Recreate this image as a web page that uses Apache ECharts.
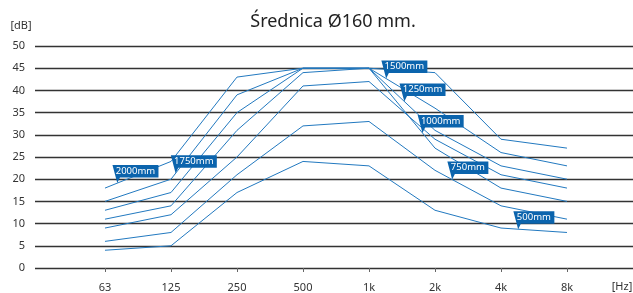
<!DOCTYPE html>
<html>
<head>
<meta charset="utf-8">
<script src="https://cdn.jsdelivr.net/npm/echarts@6/dist/echarts.min.js"></script>
<style>html,body{margin:0;padding:0;background:#fff}#c{width:633px;height:293px}</style>
</head>
<body>
<div id="c"></div>
<script>
// Frequency categories (octave bands)
const freqLabels = ['63', '125', '250', '500', '1k', '2k', '4k', '8k'];
// Attenuation curves [dB] per octave band
const lineA = [18, 24, 43, 45, 45, 44, 29, 27];
const lineB = [15, 20, 39, 45, 45, 36, 26, 23];
const lineC = [13, 17, 35, 45, 45, 31, 23, 20];
const lineD = [11, 14, 31, 44, 45, 27, 18, 15];
const lineE = [9, 12, 25, 41, 42, 29, 21, 18];
const lineF = [6, 8, 21, 32, 33, 22, 14, 11];
const lineG = [4, 5, 17, 24, 23, 13, 9, 8];
// Y tick values
const yTicks = [0, 5, 10, 15, 20, 25, 30, 35, 40, 45, 50];
// Callout labels: text, which line, position along the band axis
const calloutTexts = ['2000mm', '1750mm', '1500mm', '1250mm', '1000mm', '750mm', '500mm'];
const calloutLine = [0, 1, 1, 2, 3, 5, 6];
const calloutAt = [0.186, 1.07, 4.26, 4.535, 4.81, 5.26, 6.26];

const lines = [lineA, lineB, lineC, lineD, lineE, lineF, lineG];
const LINE_COLOR = '#2279c0';
const BOX_COLOR = '#0b64ad';
const FONT = '"Noto Sans", "Open Sans", sans-serif';

function interp(arr, t) {
  const i = Math.min(Math.floor(t), arr.length - 2);
  const f = t - i;
  return arr[i] + (arr[i + 1] - arr[i]) * f;
}

const series = lines.map((arr, k) => ({
  type: 'line',
  name: 'L' + k,
  data: arr.map((v, i) => [i, v]),
  symbol: 'none',
  lineStyle: { color: LINE_COLOR, width: 1 },
  z: 2
}));

const calloutData = calloutTexts.map((txt, k) => {
  const w = txt.length >= 6 ? 46 : 41;
  return {
    value: [calloutAt[k], interp(lines[calloutLine[k]], calloutAt[k])],
    name: txt,
    symbol: 'path://M0,0L' + w + ',0L' + w + ',12.5L7.5,12.5L4.8,18Z',
    symbolSize: [w, 18],
    symbolOffset: [w / 2 - 4.8, -9]
  };
});

series.push({
  type: 'scatter',
  data: calloutData,
  z: 10,
  itemStyle: { color: BOX_COLOR, opacity: 1 },
  label: {
    show: true,
    position: 'inside',
    offset: [0, -2.8],
    formatter: p => p.name,
    color: '#fff',
    fontSize: 9.5,
    fontFamily: FONT
  },
  emphasis: { disabled: true },
  silent: true
});

const chart = echarts.init(document.getElementById('c'), null, { renderer: 'canvas' });
chart.setOption({
  animation: false,
  backgroundColor: '#fff',
  grid: { left: 35, right: 0, top: 46, bottom: 25 },
  xAxis: {
    type: 'value',
    min: -1.0606,
    max: 8,
    splitLine: { show: false },
    axisLine: { show: false },
    axisTick: {
      show: true,
      customValues: freqLabels.map((_, i) => i),
      length: 4,
      lineStyle: { color: '#666', width: 1 }
    },
    axisLabel: {
      customValues: freqLabels.map((_, i) => i),
      formatter: v => freqLabels[Math.round(v)],
      color: '#333',
      fontSize: 11,
      fontFamily: FONT,
      margin: 14
    }
  },
  yAxis: {
    type: 'value',
    min: yTicks[0],
    max: yTicks[yTicks.length - 1],
    interval: 5,
    axisLine: { show: false },
    axisTick: { show: false },
    splitLine: { show: true, lineStyle: { color: '#333', width: 1.3 } },
    axisLabel: { color: '#333', fontSize: 11, fontFamily: FONT, margin: 10 }
  },
  graphic: [
    { type: 'text', x: 333, y: 22, style: { text: 'Średnica Ø160 mm.', textAlign: 'center', textVerticalAlign: 'middle', fontSize: 18, fill: '#222', fontFamily: FONT } },
    { type: 'text', x: 21, y: 26, style: { text: '[dB]', textAlign: 'center', textVerticalAlign: 'middle', fontSize: 11, fill: '#333', fontFamily: FONT } },
    { type: 'text', x: 622, y: 287, style: { text: '[Hz]', textAlign: 'center', textVerticalAlign: 'middle', fontSize: 11, fill: '#333', fontFamily: FONT } }
  ],
  series: series
});
</script>
</body>
</html>
